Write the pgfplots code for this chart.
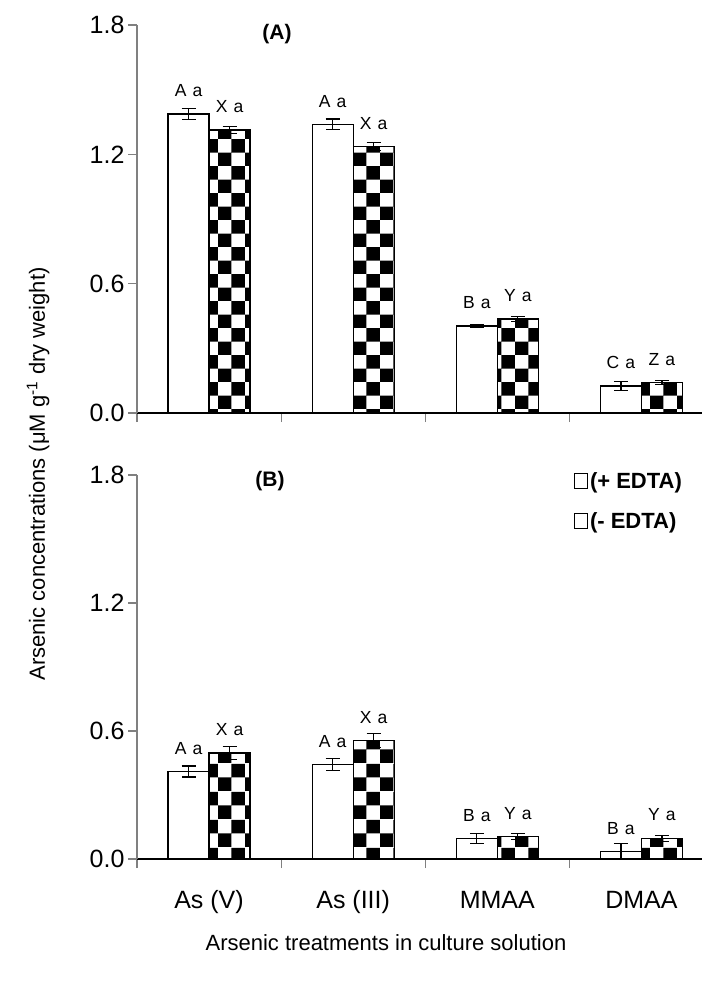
\documentclass[border=0pt]{standalone}
\usepackage{fontspec}
\setmainfont{Liberation Sans}
\usepackage{pgfplots}
\pgfplotsset{compat=1.18}
\usetikzlibrary{patterns}

% big checkerboard fill for the (- EDTA) bars
\pgfdeclarepatternformonly{bigcheck}{\pgfqpoint{0bp}{0bp}}{\pgfqpoint{27.4bp}{27.4bp}}{\pgfqpoint{27.4bp}{27.4bp}}{%
  \pgfpathrectangle{\pgfqpoint{0bp}{0bp}}{\pgfqpoint{13.7bp}{13.7bp}}%
  \pgfpathrectangle{\pgfqpoint{13.7bp}{13.7bp}}{\pgfqpoint{13.7bp}{13.7bp}}%
  \pgfusepath{fill}}

\pgfplotsset{
  panel/.style={
    scale only axis, width=565bp,
    xmin=-0.5, xmax=3.42, ymin=0, ymax=1.8,
    axis lines*=left,
    x axis line style={black, line width=1.3bp},
    y axis line style={gray, line width=1.3bp},
    tick style={gray, line width=1.2bp},
    tick align=outside, major tick length=9bp,
    xtick={-0.5,0.5,1.5,2.5},
    ytick={0,0.6,1.2,1.8},
    /pgf/number format/assume math mode=true,
    yticklabel style={/pgf/number format/fixed, /pgf/number format/fixed zerofill,
      /pgf/number format/precision=1, font=\fontsize{25bp}{30bp}\selectfont},
    xticklabel style={font=\fontsize{25bp}{30bp}\selectfont, xshift=72bp, yshift=-19bp,
      text height=18bp, text depth=5bp},
    ybar=0pt, bar width=41bp,
    clip=false,
    point meta=explicit symbolic,
    nodes near coords,
    nodes near coords style={font=\fontsize{17.5bp}{20bp}\selectfont, inner sep=0pt,
      anchor=south, yshift=16.5bp, black},
    error bars/y dir=both, error bars/y explicit,
    error bars/error bar style={black, line width=1.2bp},
    error bars/error mark options={rotate=90, black, mark size=7bp, line width=1.2bp},
  },
  plus/.style={fill=white, draw=black, line width=1.3bp},
  minus/.style={pattern=bigcheck, pattern color=black, draw=black, line width=1.3bp},
}

\begin{document}
\begin{tikzpicture}
\path[use as bounding box] (0,0) rectangle (702bp,-984bp);

% (A)
\begin{axis}[panel, at={(137bp,-413bp)}, anchor=south west, height=388bp,
  xticklabels={}]
\addplot[plus] table[x=x, y=y, y error=e, meta=lab, row sep=\\] {
x y e lab\\
0 1.387 0.027 {A\hspace{0.35em}a}\\
1 1.339 0.025 {A\hspace{0.35em}a}\\
2 0.404 0.008 {B\hspace{0.35em}a}\\
3 0.125 0.020 {C\hspace{0.35em}a}\\
};
\addplot[minus] table[x=x, y=y, y error=e, meta=lab, row sep=\\] {
x y e lab\\
0 1.313 0.016 {X\hspace{0.35em}a}\\
1 1.236 0.018 {X\hspace{0.35em}a}\\
2 0.436 0.010 {Y\hspace{0.35em}a}\\
3 0.142 0.008 {Z\hspace{0.35em}a}\\
};
\end{axis}

% (B)
\begin{axis}[panel, at={(137bp,-859bp)}, anchor=south west, height=384bp,
  xticklabels={As (V), As (III), MMAA, DMAA},
  legend style={draw=none, fill=none, at={(axis description cs:0.768,1.017)},
    anchor=north west, font=\bfseries\fontsize{22bp}{26bp}\selectfont,
    row sep=18bp, legend cell align=left,
    /tikz/every even column/.append style={column sep=1bp}}]
\addlegendimage{legend image code/.code={\draw[black, fill=white, line width=0.9bp] (0bp,-7.5bp) rectangle (13bp,7.5bp);}}
\addlegendimage{legend image code/.code={\draw[black, fill=white, line width=0.9bp] (0bp,-7.5bp) rectangle (13bp,7.5bp);}}
\addplot[plus] table[x=x, y=y, y error=e, meta=lab, row sep=\\] {
x y e lab\\
0 0.410 0.026 {A\hspace{0.35em}a}\\
1 0.443 0.027 {A\hspace{0.35em}a}\\
2 0.096 0.024 {B\hspace{0.35em}a}\\
3 0.036 0.035 {B\hspace{0.35em}a}\\
};
\addplot[minus] table[x=x, y=y, y error=e, meta=lab, row sep=\\] {
x y e lab\\
0 0.497 0.031 {X\hspace{0.35em}a}\\
1 0.555 0.032 {X\hspace{0.35em}a}\\
2 0.105 0.015 {Y\hspace{0.35em}a}\\
3 0.097 0.015 {Y\hspace{0.35em}a}\\
};
\legend{(+ EDTA),(- EDTA)}
\end{axis}

\node[font=\bfseries\fontsize{21bp}{25bp}\selectfont] at (277bp,-34bp) {(A)};
\node[font=\bfseries\fontsize{21bp}{25bp}\selectfont] at (270bp,-481bp) {(B)};
\node[rotate=90, font=\fontsize{22bp}{26bp}\selectfont] at (38bp,-474bp)
  {Arsenic concentrations (μM g\textsuperscript{-1} dry weight)};
\node[font=\fontsize{22bp}{26bp}\selectfont] at (386bp,-943bp)
  {Arsenic treatments in culture solution};
\end{tikzpicture}
\end{document}
